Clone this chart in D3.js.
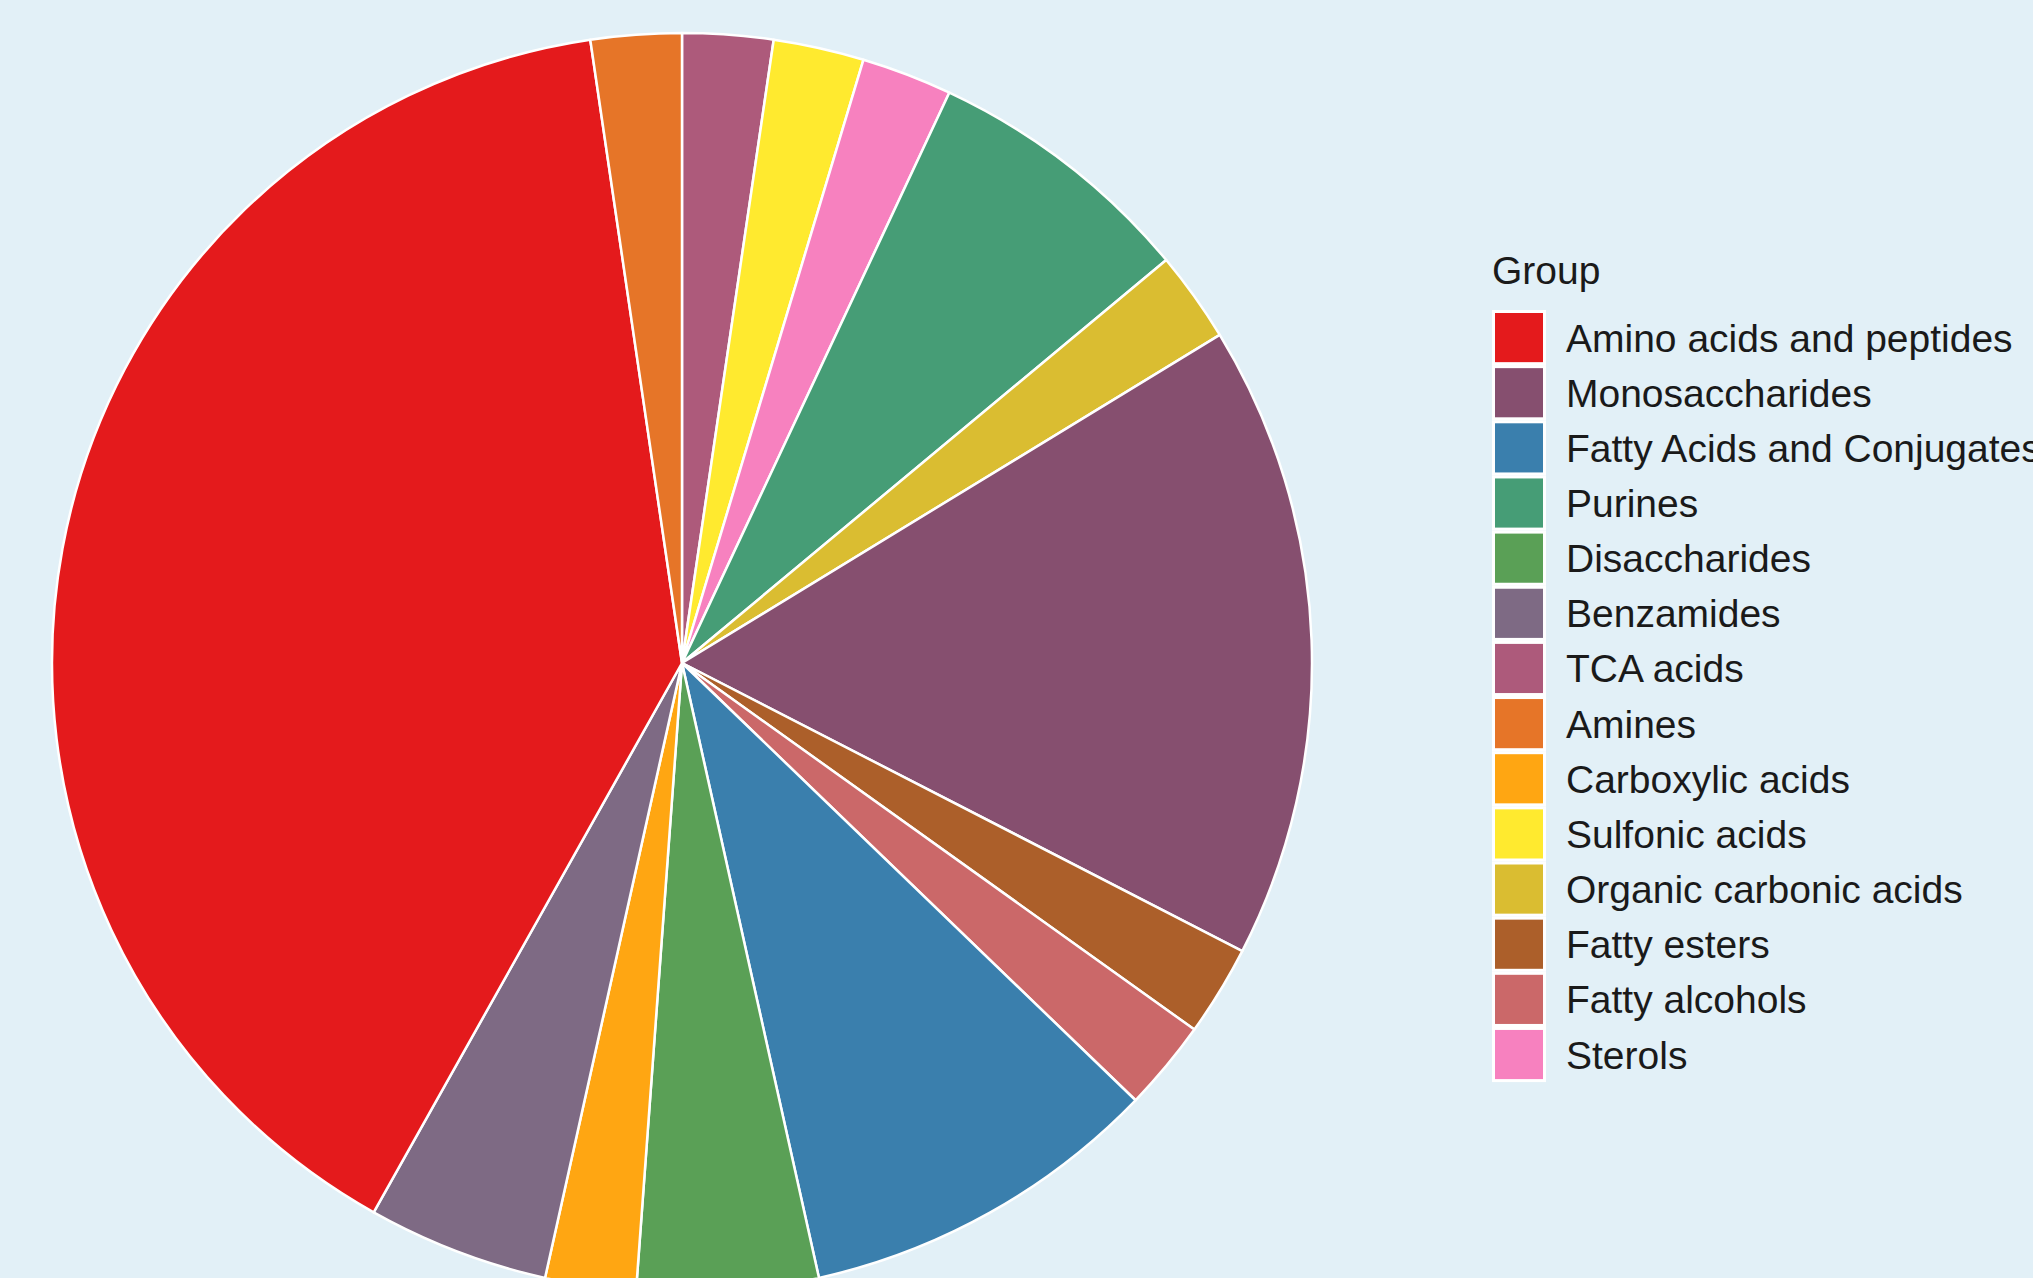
<!DOCTYPE html>
<html>
<head>
<meta charset="utf-8">
<script src="https://cdn.jsdelivr.net/npm/d3@7"></script>
<style>
  body { margin: 0; background: #e2f0f7; overflow: hidden; }
  text { font-family: "Liberation Sans", Arial, sans-serif; fill: #1a1a1a; }
</style>
</head>
<body>
<div id="chart"></div>
<script>
const width = 2033;
const height = 1278;

// legend order (by count)
const groups = [
    "Amino acids and peptides", "Monosaccharides", "Fatty Acids and Conjugates",
    "Purines", "Disaccharides", "Benzamides", "TCA acids", "Amines",
    "Carboxylic acids", "Sulfonic acids", "Organic carbonic acids",
    "Fatty esters", "Fatty alcohols", "Sterols"
];
const counts = [17, 7, 4, 3, 2, 2, 1, 1, 1, 1, 1, 1, 1, 1];
const colors = [
    "#e41a1c", "#864f6f", "#3a7fad", "#469d76", "#5aa056", "#7e6a84", "#ad5a7b",
    "#e67528", "#ffa612", "#ffea2f", "#dabd31", "#ac5f2a", "#cb6869", "#f781bf"
];

// clockwise from 12 o'clock
const sliceOrder = [
    "TCA acids", "Sulfonic acids", "Sterols", "Purines", "Organic carbonic acids",
    "Monosaccharides", "Fatty esters", "Fatty alcohols", "Fatty Acids and Conjugates",
    "Disaccharides", "Carboxylic acids", "Benzamides", "Amino acids and peptides", "Amines"
];

const cx = 682, cy = 663, radius = 630;

const svg = d3.select("#chart")
    .append("svg")
    .attr("width", width)
    .attr("height", height);

svg.append("rect")
    .attr("width", width)
    .attr("height", height)
    .attr("fill", "#e2f0f7");

const color = d3.scaleOrdinal().domain(groups).range(colors);
const countOf = d3.scaleOrdinal().domain(groups).range(counts);

const pie = d3.pie()
    .sort(null)
    .value(d => countOf(d));

const arc = d3.arc()
    .innerRadius(0)
    .outerRadius(radius);

// ------------------
// PIE
// ------------------

svg.append("g")
    .attr("transform", `translate(${cx},${cy})`)
    .selectAll("path")
    .data(pie(sliceOrder))
    .enter()
    .append("path")
    .attr("d", arc)
    .attr("fill", d => color(d.data))
    .attr("stroke", "white")
    .attr("stroke-width", 2.5)
    .attr("stroke-linejoin", "round");

// ------------------
// LEGEND
// ------------------

const legend = svg.append("g")
    .attr("transform", "translate(1492,0)");

legend.append("text")
    .attr("x", 0)
    .attr("y", 284)
    .style("font-size", "39px")
    .text("Group");

const keyY = d3.scaleBand()
    .domain(groups)
    .range([310, 310 + 55.15 * groups.length]);

const key = legend.selectAll(".key")
    .data(groups)
    .enter()
    .append("g")
    .attr("transform", d => `translate(0,${keyY(d)})`);

key.append("rect")
    .attr("x", 1.5)
    .attr("y", 1.5)
    .attr("width", 51)
    .attr("height", keyY.bandwidth() - 3)
    .attr("fill", d => color(d))
    .attr("stroke", "white")
    .attr("stroke-width", 3);

key.append("text")
    .attr("x", 74)
    .attr("y", keyY.bandwidth() / 2 + 14)
    .style("font-size", "39px")
    .text(d => d);
</script>
</body>
</html>
